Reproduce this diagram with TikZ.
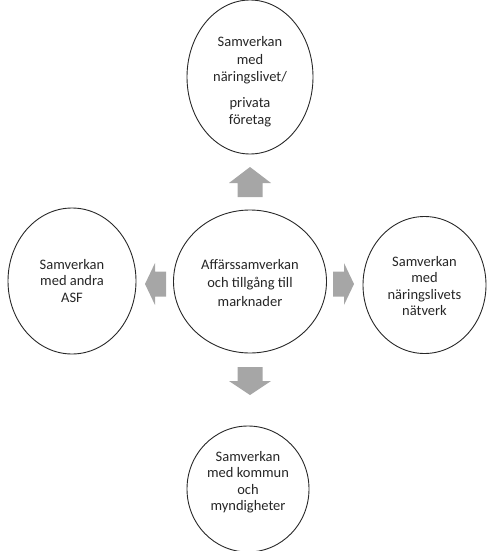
\documentclass[tikz,border=0pt]{standalone}
\usepackage{fontspec}
\setmainfont{Carlito}
\usetikzlibrary{shapes.geometric}
\definecolor{arrowgray}{RGB}{166,166,166}
\definecolor{linegray}{RGB}{40,40,40}
\tikzset{
  circ/.style={ellipse, draw=linegray, line width=0.9pt, inner sep=0pt},
  txt/.style={align=center, inner sep=0pt, text=black!85,
    font=\fontsize{14.5}{17.5}\selectfont},
  pics/bigarrow/.style 2 args={code={
    \fill[arrowgray] (0,0) -- (21,#1) -- (12.5,#1) -- (12.5,#2)
      -- (-12.5,#2) -- (-12.5,#1) -- (-21,#1) -- cycle;
  }}
}
\begin{document}
\begin{tikzpicture}[x=1pt,y=-1pt]
\useasboundingbox (0,0) rectangle (487,551);
% circles
\node[circ, minimum width=126pt, minimum height=154pt] (top) at (250,77) {};
\node[circ, minimum width=153pt, minimum height=143pt] (mid) at (250,281.5) {};
\node[circ, minimum width=128pt, minimum height=146pt] (left) at (72,281) {};
\node[circ, minimum width=123pt, minimum height=137pt] (right) at (424.5,285) {};
\node[circ, minimum width=122pt, minimum height=126pt] (bot) at (248,489) {};
% texts
\node[txt] (toptext) at (250,82) {Samverkan\\med\\näringslivet/\\[8pt]privata\\företag};
\node[txt, font=\fontsize{14.5}{18.5}\selectfont] (midtext) at (250,283) {Affärssamverkan\\och tillgång till\\marknader};
\node[txt, font=\fontsize{14.5}{16.5}\selectfont] (lefttext) at (72,281) {Samverkan\\med andra\\ASF};
\node[txt, font=\fontsize{14.5}{16.3}\selectfont] (righttext) at (424.5,286) {Samverkan\\med\\näringslivets\\nätverk};
\node[txt, font=\fontsize{14.5}{16.5}\selectfont] (bottext) at (248,482) {Samverkan\\med kommun\\och\\myndigheter};
% block arrows
\pic at (250,167) {bigarrow={16}{30}};
\pic[rotate=180] at (250,395) {bigarrow={14}{28}};
\pic[rotate=90] at (145,284) {bigarrow={10}{21}};
\pic[rotate=-90] at (354,284) {bigarrow={10}{21}};
\end{tikzpicture}
\end{document}
